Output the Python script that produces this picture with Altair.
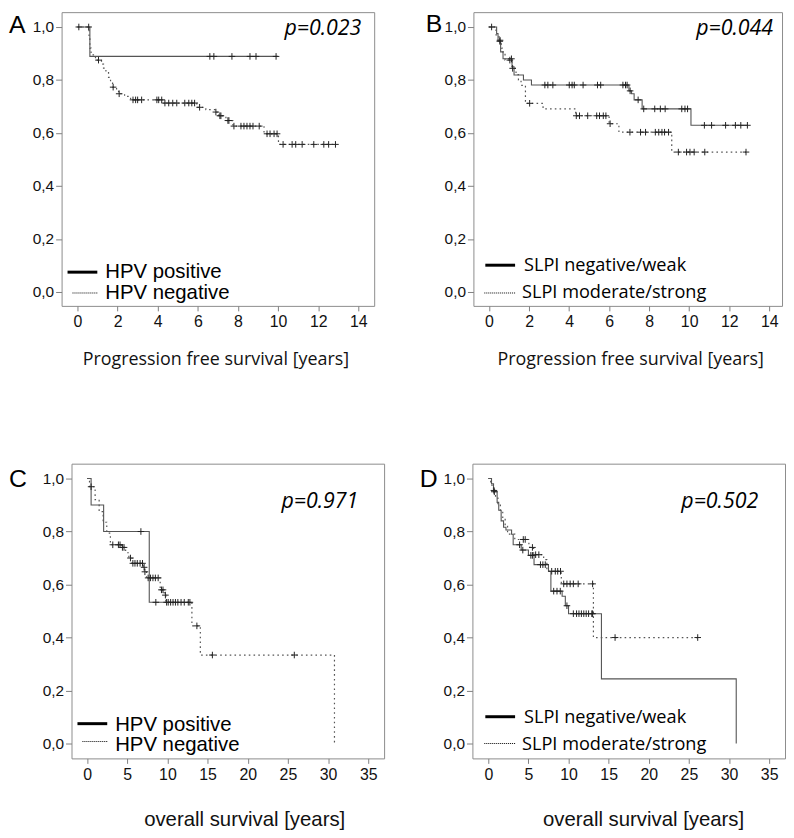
import altair as alt
import pandas as pd

# ---------------- Panel A: progression free survival, HPV ----------------
A_pos_t = [0, 0.62, 10.0]
A_pos_s = [1.0, 0.889, 0.889]
A_pos_c = [0.56, 6.6, 6.8, 7.7, 8.6, 8.9, 9.9]

A_neg_t = [0, 0.58, 0.62, 0.68, 0.9, 1.2, 1.3, 1.42, 1.55, 1.65, 1.75, 1.95, 2.05,
           2.35, 2.65, 4.3, 5.95, 6.4, 6.85, 7.05, 7.4, 7.75, 9.3, 10.02, 12.9]
A_neg_s = [1.0, 0.96, 0.92, 0.895, 0.875, 0.86, 0.845, 0.83, 0.81, 0.795, 0.773, 0.76, 0.748,
           0.738, 0.725, 0.713, 0.697, 0.688, 0.679, 0.665, 0.647, 0.626, 0.597, 0.557, 0.557]
A_neg_c = [0.07, 1.05, 1.78, 2.08, 2.77, 2.9, 3.0, 3.2, 3.96, 4.05, 4.2, 4.36, 4.55, 4.75, 4.95,
           5.35, 5.55, 5.7, 5.84, 6.09, 6.9, 7.1, 7.15, 7.5, 7.55, 7.8, 8.15, 8.3, 8.45, 8.6,
           8.75, 9.06, 9.45, 9.6, 9.8, 9.95, 10.25, 10.7, 10.88, 11.2, 11.78, 12.28, 12.52, 12.86]

# ---------------- Panel B: progression free survival, SLPI ----------------
B_neg_t = [0, 0.38, 0.45, 0.58, 0.7, 1.15, 1.25, 1.72, 2.12, 6.99, 7.12, 7.25, 7.65, 10.09, 12.91]
B_neg_s = [1.0, 0.975, 0.95, 0.906, 0.88, 0.85, 0.819, 0.80, 0.781, 0.759, 0.748, 0.725, 0.691, 0.629, 0.629]
B_neg_c = [0.13, 0.55, 1.12, 2.79, 2.94, 3.19, 4.01, 4.15, 4.26, 4.70, 5.42, 5.58, 6.69, 6.82, 6.90,
           7.05, 7.45, 7.73, 8.28, 8.56, 8.8, 9.63, 9.79, 9.92, 10.76, 11.12, 11.82, 12.31, 12.58, 12.91]

B_pos_t = [0, 0.35, 0.5, 0.62, 0.7, 0.8, 1.15, 1.35, 1.47, 1.6, 1.82, 2.7, 4.33, 6.0, 6.49, 9.13, 12.84]
B_pos_s = [1.0, 0.97, 0.946, 0.92, 0.9, 0.875, 0.844, 0.82, 0.80, 0.78, 0.712, 0.691, 0.665, 0.635, 0.603, 0.528, 0.528]
B_pos_c = [0.54, 1.04, 1.18, 2.03, 4.36, 4.52, 4.93, 5.38, 5.52, 5.71, 5.84, 6.05, 7.04, 7.57, 7.82,
           8.31, 8.48, 8.64, 8.77, 8.97, 9.46, 9.87, 10.04, 10.25, 10.78, 12.84]

# ---------------- Panel C: overall survival, HPV ----------------
C_pos_t = [0, 0.5, 2.06, 7.74, 9.9]
C_pos_s = [1.0, 0.9, 0.8, 0.533, 0.533]
C_pos_c = [6.7, 8.56, 9.9]

C_neg_t = [0, 0.3, 1.0, 1.5, 2.0, 2.45, 2.9, 4.25, 4.8, 5.2, 5.6, 7.0, 7.15, 7.4, 9.1, 9.6, 9.8,
           13.05, 14.1, 30.8]
C_neg_s = [1.0, 0.969, 0.92, 0.875, 0.835, 0.794, 0.75, 0.74, 0.72, 0.70, 0.68, 0.665, 0.648,
           0.625, 0.58, 0.56, 0.533, 0.444, 0.334, 0.0]
C_neg_c = [0.5, 3.2, 3.9, 4.1, 4.4, 4.6, 5.4, 5.7, 5.96, 6.25, 6.6, 6.9, 7.1, 7.2, 7.6, 7.9, 8.2,
           8.5, 8.85, 9.26, 9.45, 9.75, 10.1, 10.4, 10.7, 11.0, 11.3, 11.7, 12.1, 12.6, 12.8,
           13.67, 15.6, 25.8]

# ---------------- Panel D: overall survival, SLPI ----------------
D_neg_t = [0, 0.4, 0.65, 1.1, 1.3, 1.6, 1.9, 2.2, 2.9, 3.1, 4.1, 5.0, 5.7, 7.5, 7.8, 9.2, 9.6,
           10.0, 14.1, 30.9]
D_neg_s = [1.0, 0.98, 0.95, 0.91, 0.88, 0.84, 0.816, 0.806, 0.79, 0.75, 0.73, 0.71, 0.675, 0.65,
           0.575, 0.556, 0.52, 0.49, 0.244, 0.0]
D_neg_c = [0.75, 3.9, 4.3, 5.3, 5.5, 6.5, 6.8, 7.1, 8.15, 8.56, 8.97, 9.8, 10.6, 11.0, 11.3,
           11.6, 11.9, 12.2, 12.5, 12.9, 13.0]

D_pos_t = [0, 0.3, 0.65, 0.9, 1.2, 1.5, 1.8, 2.1, 2.4, 3.3, 5.06, 5.65, 6.9, 7.3, 9.1, 13.1, 26.1]
D_pos_s = [1.0, 0.975, 0.955, 0.93, 0.905, 0.88, 0.85, 0.82, 0.79, 0.77, 0.74, 0.7125, 0.694,
           0.65, 0.6025, 0.40, 0.40]
D_pos_c = [0.7, 4.36, 4.6, 5.5, 5.9, 6.3, 7.9, 8.35, 8.65, 9.0, 9.4, 9.8, 10.2, 10.6, 11.2,
           13.0, 15.8, 26.1]

# ---------------- Texts ----------------
letters = ["A", "B", "C", "D"]
p_values = ["p=0.023", "p=0.044", "p=0.971", "p=0.502"]
hpv_labels = ["HPV positive", "HPV negative"]
slpi_labels = ["SLPI negative/weak", "SLPI moderate/strong"]
pfs_title = "Progression free survival [years]"
os_title = "overall survival [years]"
y_ticks = [0.0, 0.2, 0.4, 0.6, 0.8, 1.0]
x_ticks_pfs = [0, 2, 4, 6, 8, 10, 12, 14]
x_ticks_os = [0, 5, 10, 15, 20, 25, 30, 35]

ARIAL = "Liberation Sans"
CALIBRI = "Open Sans"
LINE_COL = "#555555"
CROSS = "M-1,0H1M0,-1V1"


def step_df(t, s):
    return pd.DataFrame({"t": t, "s": s})


def cens_df(c, t, s):
    ys = []
    for ct in c:
        lvl = s[0]
        for tt, ss in zip(t, s):
            if tt <= ct:
                lvl = ss
        ys.append(lvl)
    return pd.DataFrame({"t": c, "s": ys})


def panel(solid, dotted, xdom, ydom, xticks, xtitle, tfont, tsize, tx, ty,
          letter, lx, ly, pval, px, py, labels, lfont, lsize, leg, w, h):
    xaxis = alt.Axis(values=xticks, tickSize=5, labelFontSize=16, labelPadding=3,
                     labelFont=ARIAL, title=xtitle, titleFont=tfont, titleFontSize=tsize,
                     titleFontWeight="normal", titleX=tx, titleY=ty,
                     titleBaseline="alphabetic", titleAlign="center")
    yaxis = alt.Axis(values=y_ticks, tickSize=6, labelFontSize=15.5, labelPadding=2,
                     labelFont=ARIAL, title=None,
                     labelExpr="replace(format(datum.value, '.1f'), '.', ',')")
    X = alt.X("t:Q", scale=alt.Scale(domain=xdom, nice=False, zero=False), axis=xaxis)
    Y = alt.Y("s:Q", scale=alt.Scale(domain=ydom, nice=False, zero=False), axis=yaxis)

    layers = []
    layers.append(alt.Chart(step_df(*solid[:2])).mark_line(
        interpolate="step-after", color=LINE_COL, strokeWidth=1.1).encode(x=X, y=Y))
    layers.append(alt.Chart(step_df(*dotted[:2])).mark_line(
        interpolate="step-after", color=LINE_COL, strokeWidth=1.2,
        strokeDash=[1.6, 3.2]).encode(x=X, y=Y))
    cdf = pd.concat([cens_df(solid[2], solid[0], solid[1]),
                     cens_df(dotted[2], dotted[0], dotted[1])])
    layers.append(alt.Chart(cdf).mark_point(
        shape=CROSS, size=44, filled=False, stroke="#222222", strokeWidth=1,
        opacity=1).encode(x=X, y=Y))

    one = pd.DataFrame({"k": [0]})
    (sx1, sx2, sy, stx, sty), (dx1, dx2, dy, dtx, dty) = leg
    layers.append(alt.Chart(one).mark_rule(color="#000", strokeWidth=3).encode(
        x=alt.value(sx1), x2=alt.value(sx2), y=alt.value(sy)))
    layers.append(alt.Chart(one).mark_rule(color="#000", strokeWidth=1,
                                           strokeDash=[1, 1]).encode(
        x=alt.value(dx1), x2=alt.value(dx2), y=alt.value(dy)))
    layers.append(alt.Chart(one).mark_text(
        text=labels[0], font=lfont, fontSize=lsize, align="left", baseline="alphabetic",
        color="#000").encode(x=alt.value(stx), y=alt.value(sty)))
    layers.append(alt.Chart(one).mark_text(
        text=labels[1], font=lfont, fontSize=lsize, align="left", baseline="alphabetic",
        color="#000").encode(x=alt.value(dtx), y=alt.value(dty)))
    layers.append(alt.Chart(one).mark_text(
        text=letter, font=ARIAL, fontSize=25, align="left", baseline="alphabetic",
        color="#000").encode(x=alt.value(lx), y=alt.value(ly)))
    layers.append(alt.Chart(one).mark_text(
        text=pval, font=CALIBRI, fontSize=21.5, fontStyle="italic", align="right",
        baseline="alphabetic", color="#000").encode(x=alt.value(px), y=alt.value(py)))
    return alt.layer(*layers).properties(width=w, height=h)


pA = panel((A_pos_t, A_pos_s, A_pos_c), (A_neg_t, A_neg_s, A_neg_c),
           [-0.79, 14.79], [-0.0524, 1.056], x_ticks_pfs, pfs_title, CALIBRI, 18, 155, 59,
           letters[0], -53, 21, p_values[0], 302, 23, hpv_labels, ARIAL, 20.5,
           ((6, 36, 262, 44, 268), (11, 37, 283, 44, 289)), 315, 296)
pB = panel((B_neg_t, B_neg_s, B_neg_c), (B_pos_t, B_pos_s, B_pos_c),
           [-0.78, 14.64], [-0.0524, 1.056], x_ticks_pfs, pfs_title, CALIBRI, 18, 158, 59,
           letters[1], -48, 20, p_values[1], 302, 23, slpi_labels, CALIBRI, 18.3,
           ((12, 42, 255, 51, 260.5), (11, 42, 283, 49, 288.5)), 311, 296)
pC = panel((C_pos_t, C_pos_s, C_pos_c), (C_neg_t, C_neg_s, C_neg_c),
           [-1.94, 36.98], [-0.056, 1.056], x_ticks_os, os_title, ARIAL, 20.5, 174, 68,
           letters[2], -63, 24, p_values[2], 289, 45, hpv_labels, ARIAL, 20.5,
           ((6, 36, 262, 44, 269.5), (11, 37, 280, 44, 289.5)), 315, 297)
pD = panel((D_neg_t, D_neg_s, D_neg_c), (D_pos_t, D_pos_s, D_pos_c),
           [-1.98, 36.98], [-0.056, 1.056], x_ticks_os, os_title, ARIAL, 20.5, 172, 68,
           letters[3], -53, 24, p_values[3], 288, 45, slpi_labels, CALIBRI, 18.3,
           ((13, 43, 255, 52, 261), (12, 43, 282, 50, 288.7)), 315, 297)

spacer = alt.Chart(pd.DataFrame({"k": [0]})).mark_point(opacity=0).encode(
    x=alt.value(0), y=alt.value(0)).properties(
    width=1, height=297, view=alt.ViewBackground(strokeOpacity=0))

row1 = alt.hconcat(pA, pB, spacing=100, bounds="flush")
row2 = alt.hconcat(spacer, alt.hconcat(pC, pD, spacing=89, bounds="flush"),
                   spacing=9, bounds="flush")
chart = alt.vconcat(row1, row2, spacing=455, bounds="flush").properties(
    padding={"left": 0, "top": 0, "right": 0, "bottom": 0}
).configure_view(
    stroke="#8c8c8c", strokeWidth=1
).configure_axis(
    domain=False, grid=False, tickColor="#808080", labelColor="#111111",
    titleColor="#111111"
)

chart.save("out.html", embed_options={"renderer": "svg", "actions": False})
